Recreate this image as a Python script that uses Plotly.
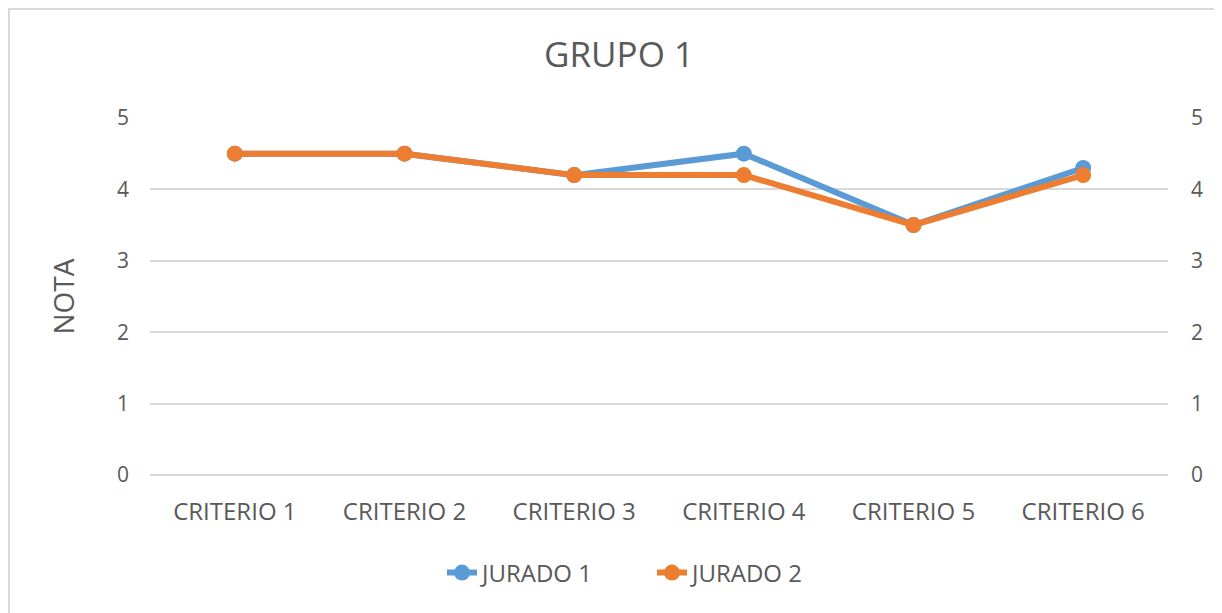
import plotly.graph_objects as go

categories = ["CRITERIO 1", "CRITERIO 2", "CRITERIO 3", "CRITERIO 4", "CRITERIO 5", "CRITERIO 6"]
jurado1 = [4.5, 4.5, 4.2, 4.5, 3.5, 4.3]
jurado2 = [4.5, 4.5, 4.2, 4.2, 3.5, 4.2]
y_ticks = [0, 1, 2, 3, 4, 5]

BLUE = "#5B9BD5"
ORANGE = "#ED7D31"
TXT = "#595959"
GRID = "#D9D9D9"
FONT = "Open Sans"

W, H = 1222, 613
L, R, T, B = 142, 62, 110, 146
PW, PH = W - L - R, H - T - B

fig = go.Figure()
fig.add_trace(go.Scatter(x=categories, y=jurado1, name="JURADO 1", mode="lines+markers",
                         line=dict(color=BLUE, width=6), marker=dict(size=16, color=BLUE)))
fig.add_trace(go.Scatter(x=categories, y=jurado2, name="JURADO 2", mode="lines+markers",
                         line=dict(color=ORANGE, width=6), marker=dict(size=16, color=ORANGE)))
# invisible trace to activate secondary axis
fig.add_trace(go.Scatter(x=categories, y=jurado1, yaxis="y2", mode="lines", showlegend=False,
                         line=dict(width=0), opacity=0, hoverinfo="skip"))

fig.update_layout(
    width=W, height=H,
    paper_bgcolor="white", plot_bgcolor="white",
    margin=dict(l=L, r=R, t=T, b=B),
    font=dict(family=FONT, color=TXT, size=20),
    title=dict(text="GRUPO 1", x=0.5, xref="container", xanchor="center", y=1 - 47 / H, yanchor="middle",
               font=dict(size=35, color=TXT, family=FONT)),
    xaxis=dict(type="category", range=[-0.5, 5.5], showgrid=False, showline=False, ticks="",
               tickfont=dict(size=24, color=TXT), zeroline=False, ticklabelstandoff=20),
    yaxis=dict(range=[0, 5], tickvals=y_ticks, showgrid=True, gridcolor=GRID, gridwidth=2,
               zeroline=True, zerolinecolor=GRID, zerolinewidth=2, showline=False, ticks="",
               ticklabelstandoff=20, tickfont=dict(size=21, color=TXT)),
    yaxis2=dict(range=[0, 5], tickvals=y_ticks, overlaying="y", side="right", showgrid=False,
                zeroline=False, showline=False, ticks="", ticklabelstandoff=22,
                tickfont=dict(size=21, color=TXT)),
    legend=dict(orientation="h", x=0.527, xanchor="center", xref="container", y=1 - 565 / H, yref="container",
                yanchor="middle", font=dict(size=24, color=TXT), entrywidth=165, entrywidthmode="pixels"),
    showlegend=True,
)
fig.add_annotation(text="NOTA", textangle=-90, xref="paper", yref="paper",
                   x=(54 - L) / PW, y=0.5, showarrow=False, xanchor="center", yanchor="middle",
                   font=dict(size=28, color=TXT, family=FONT))
fig.add_shape(type="rect", xref="paper", yref="paper",
              x0=(1 - L) / PW, y0=-1, x1=2, y1=(H - B - 1) / PH,
              line=dict(color=GRID, width=2), fillcolor="rgba(0,0,0,0)", layer="below")

fig.write_html("out.html")
